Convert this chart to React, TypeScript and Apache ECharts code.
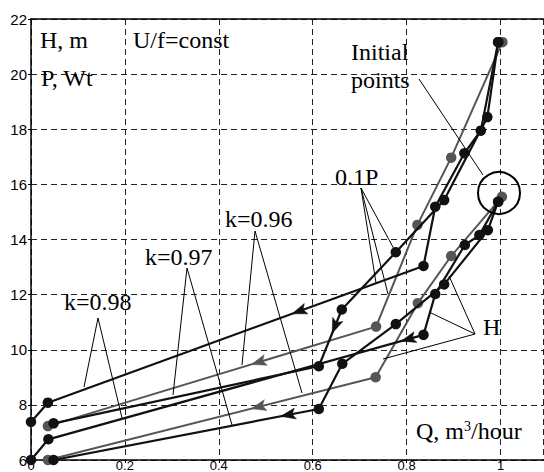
import React, { useEffect, useRef } from "react";
import * as echarts from "echarts";

// ---- data (Q in relative units, H in m / 0.1P in Wt) ----
const xTickLabels = ["0", "0.2", "0.4", "0.6", "0.8", "1"];
const yTickLabels = ["6", "8", "10", "12", "14", "16", "18", "20", "22"];

// upper group: 0.1P curves
const p98: number[][] = [[0.995, 21.16], [0.958, 17.95], [0.923, 17.13], [0.861, 15.19], [0.836, 13.04], [0.036, 8.08], [0.0, 7.38]];
const p97: number[][] = [[0.995, 21.16], [0.972, 18.44], [0.88, 15.43], [0.777, 13.54], [0.662, 11.46], [0.613, 9.4], [0.048, 7.33]];
const p96: number[][] = [[1.004, 21.16], [0.895, 16.97], [0.823, 14.53], [0.735, 10.84], [0.036, 7.23]];
// lower group: H curves
const h98: number[][] = [[0.995, 15.37], [0.955, 14.16], [0.924, 13.8], [0.861, 12.02], [0.836, 10.54], [0.037, 6.75], [0.0, 6.0]];
const h97: number[][] = [[0.995, 15.37], [0.973, 14.34], [0.88, 12.37], [0.777, 10.93], [0.663, 9.49], [0.613, 7.85], [0.048, 6.0]];
const h96: number[][] = [[1.003, 15.55], [0.895, 13.4], [0.824, 11.69], [0.734, 9.0], [0.036, 6.0]];

// arrows: [curve, segment start index, fraction along segment of the tip]
const arrowSpecs: [number[][], number, number][] = [
  [p98, 4, 0.35],
  [p97, 4, 0.42],
  [p96, 3, 0.38],
  [h98, 4, 0.06],
  [h97, 5, 0.144],
  [h96, 3, 0.38],
];

const BLACK = "#111";
const GRAY = "#555";
const SERIF = '"Liberation Serif", "Times New Roman", serif';
const SANS = '"Liberation Sans", Arial, sans-serif';

function lineSeries(name: string, data: number[][], color: string) {
  return {
    type: "line",
    name,
    data,
    symbol: "circle",
    symbolSize: 10.5,
    showSymbol: true,
    lineStyle: { color, width: color === GRAY ? 2 : 2.2 },
    itemStyle: { color },
    z: color === GRAY ? 2 : 3,
  };
}

function txt(text: string, x: number, y: number, size = 24) {
  return {
    type: "text",
    x,
    y,
    z: 10,
    style: { text, font: `${size}px ${SERIF}`, fill: "#000", verticalAlign: "middle" },
  };
}

function ln(x1: number, y1: number, x2: number, y2: number, stroke = "#000") {
  return {
    type: "line",
    z: 10,
    shape: { x1, y1, x2, y2 },
    style: { stroke, lineWidth: 1 },
  };
}

export default function App() {
  const ref = useRef<HTMLDivElement>(null);
  useEffect(() => {
    if (!ref.current) return;
    const chart = echarts.init(ref.current, undefined, { renderer: "svg" });
    const arrowData = arrowSpecs.map(([c, i, t]) => [
      c[i][0], c[i][1], c[i + 1][0], c[i + 1][1], t, c === p96 || c === h96 ? 1 : 0,
    ]);
    const option: any = {
      animation: false,
      backgroundColor: "#fff",
      grid: { left: 31, top: 19, width: 512.7, height: 441, containLabel: false },
      xAxis: [
        {
          type: "value",
          min: 0,
          max: 1.092,
          interval: 0.2,
          axisLine: { lineStyle: { color: "#000", width: 1.5 } },
          axisTick: { show: true, length: 3, lineStyle: { color: "#000" } },
          axisLabel: {
            color: "#000",
            fontFamily: SANS,
            fontSize: 13,
            margin: -1,
            showMaxLabel: false,
            formatter: (v: number) => {
              const i = Math.round(v / 0.2);
              return Math.abs(v - i * 0.2) < 1e-6 && i < xTickLabels.length ? xTickLabels[i] : "";
            },
          },
          splitLine: { show: true, lineStyle: { color: "#222", type: [6, 4], width: 1 } },
        },
        {
          type: "value",
          position: "top",
          min: 0,
          max: 1.092,
          axisLine: { show: true, lineStyle: { color: "#000", width: 1.5 } },
          axisTick: { show: false },
          axisLabel: { show: false },
          splitLine: { show: false },
        },
      ],
      yAxis: {
        type: "value",
        min: 6,
        max: 22,
        interval: 2,
        axisLine: { show: true, lineStyle: { color: "#000", width: 1.5 } },
        axisTick: { show: true, length: 3, lineStyle: { color: "#000" } },
        axisLabel: {
          color: "#000",
          fontFamily: SANS,
          fontSize: 15,
          margin: 4,
          formatter: (v: number) => {
            const i = Math.round((v - 6) / 2);
            return yTickLabels[i] ?? "";
          },
        },
        splitLine: { show: true, lineStyle: { color: "#222", type: [6, 4], width: 1 } },
      },
      series: [
        lineSeries("0.1P k=0.96", p96, GRAY),
        lineSeries("H k=0.96", h96, GRAY),
        lineSeries("0.1P k=0.98", p98, BLACK),
        lineSeries("0.1P k=0.97", p97, BLACK),
        lineSeries("H k=0.98", h98, BLACK),
        lineSeries("H k=0.97", h97, BLACK),
        {
          type: "custom",
          coordinateSystem: "cartesian2d",
          data: arrowData,
          encode: { x: [0, 2], y: [1, 3] },
          z: 4,
          renderItem: (_params: any, api: any) => {
            const a = api.coord([api.value(0), api.value(1)]);
            const b = api.coord([api.value(2), api.value(3)]);
            const t = api.value(4);
            const color = api.value(5) ? GRAY : BLACK;
            const dx = b[0] - a[0];
            const dy = b[1] - a[1];
            const len = Math.hypot(dx, dy) || 1;
            const ux = dx / len;
            const uy = dy / len;
            const tip = [a[0] + dx * t, a[1] + dy * t];
            const L = 15;
            const W = 5.5;
            const bx = tip[0] - ux * L;
            const by = tip[1] - uy * L;
            const nx = tip[0] - ux * L * 0.78;
            const ny = tip[1] - uy * L * 0.78;
            return {
              type: "polygon",
              shape: {
                points: [tip, [bx - uy * W, by + ux * W], [nx, ny], [bx + uy * W, by - ux * W]],
              },
              style: { fill: color, stroke: color, lineWidth: 0.5 },
            };
          },
        },
      ],
      graphic: [
        txt("H, m", 40, 40),
        txt("P, Wt", 41, 78),
        txt("U/f=const", 133, 40),
        txt("Initial", 351, 52),
        txt("points", 351, 80),
        txt("0.1P", 335, 177),
        txt("k=0.96", 225, 219),
        txt("k=0.97", 145, 257),
        txt("k=0.98", 64, 302),
        txt("H", 483, 327),
        {
          type: "text",
          x: 416,
          y: 431,
          z: 10,
          style: {
            text: "{a|Q, m}{s|3}{a|/hour}",
            font: `24px ${SERIF}`,
            fill: "#000",
            verticalAlign: "middle",
            rich: {
              a: { font: `24px ${SERIF}`, fill: "#000", verticalAlign: "bottom" },
              s: { font: `14px ${SERIF}`, fill: "#000", verticalAlign: "top" },
            },
          },
        },
        {
          type: "circle",
          z: 10,
          shape: { cx: 499, cy: 193, r: 21 },
          style: { fill: "none", stroke: "#000", lineWidth: 2 },
        },
        ln(419, 79, 483, 175),
        ln(361, 188, 394, 249),
        ln(361, 188, 376, 283),
        ln(361, 188, 388, 294),
        ln(255, 231, 242, 365),
        ln(255, 231, 302, 393),
        ln(187, 268, 173, 395),
        ln(187, 268, 232, 425),
        ln(98, 318, 84, 387),
        ln(98, 318, 122, 418),
        ln(475, 334, 449, 276),
        ln(475, 334, 429, 312),
        ln(475, 334, 383, 359),
      ],
    };
    chart.setOption(option);
    return () => chart.dispose();
  }, []);
  return (
    <div
      ref={ref}
      style={{
        position: "fixed",
        left: 0,
        top: 0,
        width: 544,
        height: 472,
        overflow: "hidden",
        background: "#fff",
      }}
    />
  );
}
